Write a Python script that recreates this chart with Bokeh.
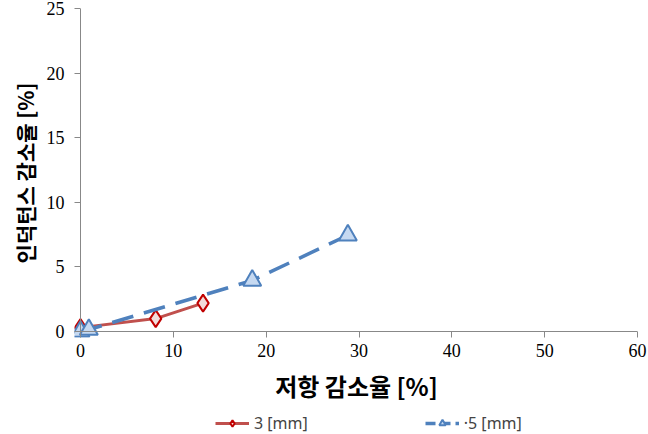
from bokeh.plotting import figure
from bokeh.models import Range1d, Legend, LegendItem, FixedTicker, Span, Title, Label
from bokeh.layouts import column
from bokeh.embed import file_html
from bokeh.resources import INLINE

x_3mm = [0.0, 8.1, 13.2]
y_3mm = [0.3, 1.0, 2.2]
x_5mm = [0.0, 0.9, 18.5, 28.8]
y_5mm = [0.0, 0.15, 3.95, 7.45]
x_ticks = [0, 10, 20, 30, 40, 50, 60]
y_ticks = [0, 5, 10, 15, 20, 25]
labels = ["3 [mm]", "·5 [mm]"]
x_title = "저항 감소율 [%]"
y_title = "인덕턴스 감소율 [%]"

RED_LINE, RED_EDGE, RED_FILL = "#C0504D", "#C00000", "#F2DCDB"
BLUE_LINE, BLUE_FILL = "#4F81BD", "#C6D9F1"

# small negative pad so markers at 0 are not clipped; axis lines drawn at 0
x_pad = 6 / (557 / 60)
y_pad = 6 / (323 / 25)

p = figure(frame_width=563, frame_height=329, output_backend="svg", toolbar_location=None,
           x_range=Range1d(-x_pad, 60), y_range=Range1d(-y_pad, 25),
           min_border_left=74, min_border_right=11, min_border_top=8, min_border_bottom=30)
p.outline_line_color = None
p.xgrid.visible = False
p.ygrid.visible = False
p.background_fill_color = "white"

for ax in (p.xaxis[0], p.yaxis[0]):
    ax.axis_line_color = None
    ax.major_tick_line_color = "#888888"
    ax.minor_tick_line_color = None
    ax.major_tick_in = 6
    ax.major_tick_out = 0
    ax.major_label_text_font = "Liberation Serif"
    ax.major_label_text_font_size = "18px"
    ax.major_label_text_color = "black"

p.xaxis[0].ticker = FixedTicker(ticks=x_ticks)
p.yaxis[0].ticker = FixedTicker(ticks=y_ticks)
p.xaxis.major_label_standoff = 6
p.yaxis.major_label_standoff = 10

p.add_layout(Title(text=y_title, align="center", offset=23, standoff=8,
                   text_font="Noto Sans CJK KR", text_font_style="bold",
                   text_font_size="21px", text_color="black", text_line_height=0.8), "left")

p.add_layout(Span(location=0, dimension="height", line_color="#888888", line_width=1))
p.add_layout(Span(location=0, dimension="width", line_color="#888888", line_width=1))

p.line(x_3mm, y_3mm, line_color=RED_LINE, line_width=3)
p.scatter(x_3mm, y_3mm, marker="diamond", size=17, fill_color=RED_FILL,
          line_color=RED_EDGE, line_width=2)
p.line(x_5mm, y_5mm, line_color=BLUE_LINE, line_width=3.5, line_dash="22 11")
p.scatter(x_5mm, y_5mm, marker="triangle", size=18, fill_color=BLUE_FILL,
          line_color=BLUE_LINE, line_width=2)

# strip below the chart: x-axis title and legend (series drawn out of view, legend keys only)
q = figure(width=648, height=67, output_backend="svg", toolbar_location=None,
           x_axis_type=None, y_axis_type=None, min_border=0,
           x_range=Range1d(1000, 1001), y_range=Range1d(1000, 1001))
q.outline_line_color = None
q.xgrid.visible = False
q.ygrid.visible = False
q.add_layout(Label(x=282, y=49, x_units="screen", y_units="screen", text=x_title,
                   text_align="center", text_baseline="middle",
                   text_font="Noto Sans CJK KR", text_font_style="bold",
                   text_font_size="24px", text_color="black"))
l1 = q.line(x_3mm, y_3mm, line_color=RED_LINE, line_width=3)
s1 = q.scatter(x_3mm, y_3mm, marker="diamond", size=13, fill_color=RED_FILL,
               line_color=RED_EDGE, line_width=2)
l2 = q.line(x_5mm, y_5mm, line_color=BLUE_LINE, line_width=3.5, line_dash="10 5")
s2 = q.scatter(x_5mm, y_5mm, marker="triangle", size=13, fill_color=BLUE_FILL,
               line_color=BLUE_LINE, line_width=2)
legend = Legend(items=[LegendItem(label=labels[0], renderers=[l1, s1]),
                       LegendItem(label=labels[1], renderers=[l2, s2])],
                orientation="horizontal", location=(141, 0),
                label_text_font="Noto Sans", label_text_font_size="16px",
                label_height=16, glyph_height=16,
                glyph_width=34, spacing=117, border_line_color=None,
                background_fill_alpha=0, margin=0, padding=2)
q.add_layout(legend, "center")

open("out.html", "w").write(file_html(column(p, q, spacing=0), INLINE))
